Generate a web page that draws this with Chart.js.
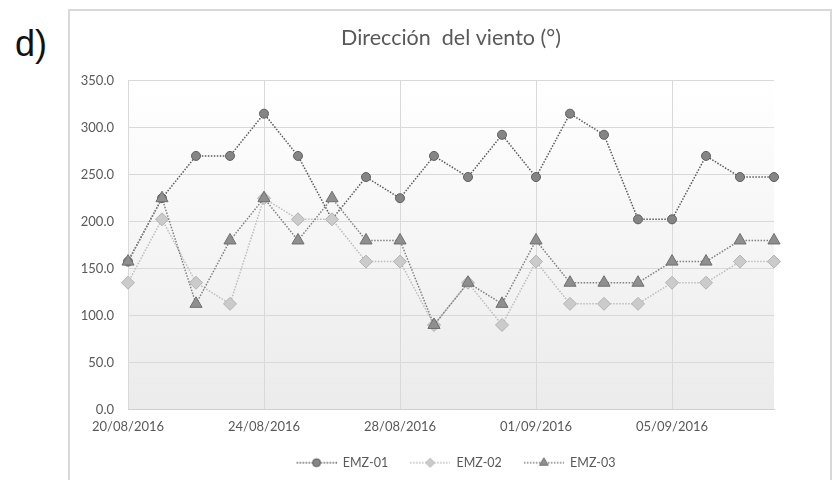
<!DOCTYPE html>
<html><head><meta charset="utf-8">
<script src="https://cdn.jsdelivr.net/npm/chart.js@4/dist/chart.umd.min.js"></script>
<style>
html,body{margin:0;padding:0;background:#fff;width:834px;height:480px;overflow:hidden}
#frame{position:absolute;left:68px;top:9px;width:764px;height:490px;border:2px solid #d9d9d9;box-sizing:border-box}
#tag{position:absolute;left:15px;top:27px;line-height:34px;font-family:"Liberation Sans",Arial,sans-serif;font-size:36px;color:#111}
#wrap{position:absolute;left:0;top:0;width:834px;height:480px}
</style></head>
<body>
<div id="frame"></div>
<div id="tag">d)</div>
<div id="wrap"><canvas id="c" width="834" height="480"></canvas></div>
<script>
const dates = ["20/08/2016","21/08/2016","22/08/2016","23/08/2016","24/08/2016","25/08/2016","26/08/2016","27/08/2016","28/08/2016","29/08/2016","30/08/2016","31/08/2016","01/09/2016","02/09/2016","03/09/2016","04/09/2016","05/09/2016","06/09/2016","07/09/2016","08/09/2016"];
const seriesNames = ["EMZ-01","EMZ-02","EMZ-03"];
const emz01 = [157.5,225,270,270,315,270,202.5,247.5,225,270,247.5,292.5,247.5,315,292.5,202.5,202.5,270,247.5,247.5];
const emz02 = [135,202.5,135,112.5,225,202.5,202.5,157.5,157.5,90,135,90,157.5,112.5,112.5,112.5,135,135,157.5,157.5];
const emz03 = [157.5,225,112.5,180,225,180,225,180,180,90,135,112.5,180,135,135,135,157.5,157.5,180,180];

const styles = [
  {line:'#5a5a5a', fill:'#858585', border:'#5f5f5f', shape:'circle', r:4.5, lr:4},
  {line:'#bdbdbd', fill:'#cbcbcb', border:'#b3b3b3', shape:'rectRot', r:6.5, lr:4.5},
  {line:'#808080', fill:'#8f8f8f', border:'#6f6f6f', shape:'triangle', r:7, lr:5}
];
const seriesData = [emz01, emz02, emz03];
const FONT = 'Lato, "Open Sans", sans-serif';
const TXT = '#595959';
const ICON_W = 50, ICON_M = 10;

function legendIcon(s){
  const cv = document.createElement('canvas');
  cv.width = ICON_W; cv.height = 14;
  const g = cv.getContext('2d');
  g.strokeStyle = s.line; g.lineWidth = 1.5; g.setLineDash([1.5,1.5]);
  g.beginPath(); g.moveTo(ICON_M,7); g.lineTo(ICON_W,7); g.stroke();
  g.setLineDash([]);
  g.fillStyle = s.fill; g.strokeStyle = s.border; g.lineWidth = 1;
  const r = s.lr, x = ICON_M + (ICON_W-ICON_M)/2, y = 7;
  g.beginPath();
  if (s.shape === 'circle') g.arc(x,y,r,0,Math.PI*2);
  else if (s.shape === 'rectRot') { g.moveTo(x-r,y); g.lineTo(x,y-r); g.lineTo(x+r,y); g.lineTo(x,y+r); g.closePath(); }
  else { g.moveTo(x, y - r); g.lineTo(x + r*0.866, y + r*0.5); g.lineTo(x - r*0.866, y + r*0.5); g.closePath(); }
  g.fill(); g.stroke();
  return cv;
}
const icons = styles.map(legendIcon);

const bgPlugin = {
  id:'bg',
  beforeDraw(chart){
    const {ctx, chartArea:{left,top,right,bottom}} = chart;
    const gr = ctx.createLinearGradient(0, top, 0, bottom);
    gr.addColorStop(0,'#ffffff');
    gr.addColorStop(1,'#ebebeb');
    ctx.save(); ctx.fillStyle = gr; ctx.fillRect(left, top, right-left, bottom-top); ctx.restore();
  }
};

const datasets = seriesData.map((d,i)=>({
  label: seriesNames[i],
  data: d,
  order: 3 - i,
  borderColor: styles[i].line,
  borderWidth: 1.5,
  borderDash: [1.5,1.5],
  pointStyle: styles[i].shape,
  pointRadius: styles[i].r,
  pointBackgroundColor: styles[i].fill,
  pointBorderColor: styles[i].border,
  pointBorderWidth: 1,
  tension: 0,
  fill: false
}));

new Chart(document.getElementById('c'), {
  type: 'line',
  data: { labels: dates, datasets },
  plugins: [bgPlugin],
  options: {
    responsive: false,
    animation: false,
    layout: { padding: { left: 68, right: 60, top: 20, bottom: 1 } },
    plugins: {
      tooltip: { enabled: false },
      title: {
        display: true, text: 'Dirección  del viento (°)', fullSize: false,
        color: TXT, font: { family: FONT, size: 21.5, weight: 'normal' },
        padding: { top: 5, bottom: 30 }
      },
      legend: {
        position: 'bottom', fullSize: false,
        labels: {
          color: TXT, font: { family: FONT, size: 12.5 },
          usePointStyle: true, pointStyleWidth: ICON_W, boxHeight: 14, padding: 12,
          generateLabels(chart){
            return seriesNames.map((n,i)=>({ text:n, pointStyle: icons[i], datasetIndex:i, fillStyle:styles[i].fill, strokeStyle:styles[i].border, lineWidth:0, hidden:false, fontColor: TXT }));
          }
        }
      }
    },
    scales: {
      x: {
        offset: false,
        afterFit(scale){ scale.height = 35; },
        grid: { color: '#d9d9d9', drawTicks: false },
        border: { color: '#cfcfcf' },
        ticks: {
          autoSkip: false, maxRotation: 0, padding: 10,
          color: TXT, font: { family: FONT, size: 13 },
          callback(v, idx){ return idx % 4 === 0 ? this.getLabelForValue(v) : null; }
        }
      },
      y: {
        min: 0, max: 350,
        afterFit(scale){ scale.width = 60; },
        grid: { color: '#d9d9d9', drawTicks: false },
        border: { display: false },
        ticks: {
          stepSize: 50, padding: 14,
          color: TXT, font: { family: FONT, size: 13 },
          callback(v){ return Number(v).toFixed(1); }
        }
      }
    }
  }
});
</script>
</body></html>
